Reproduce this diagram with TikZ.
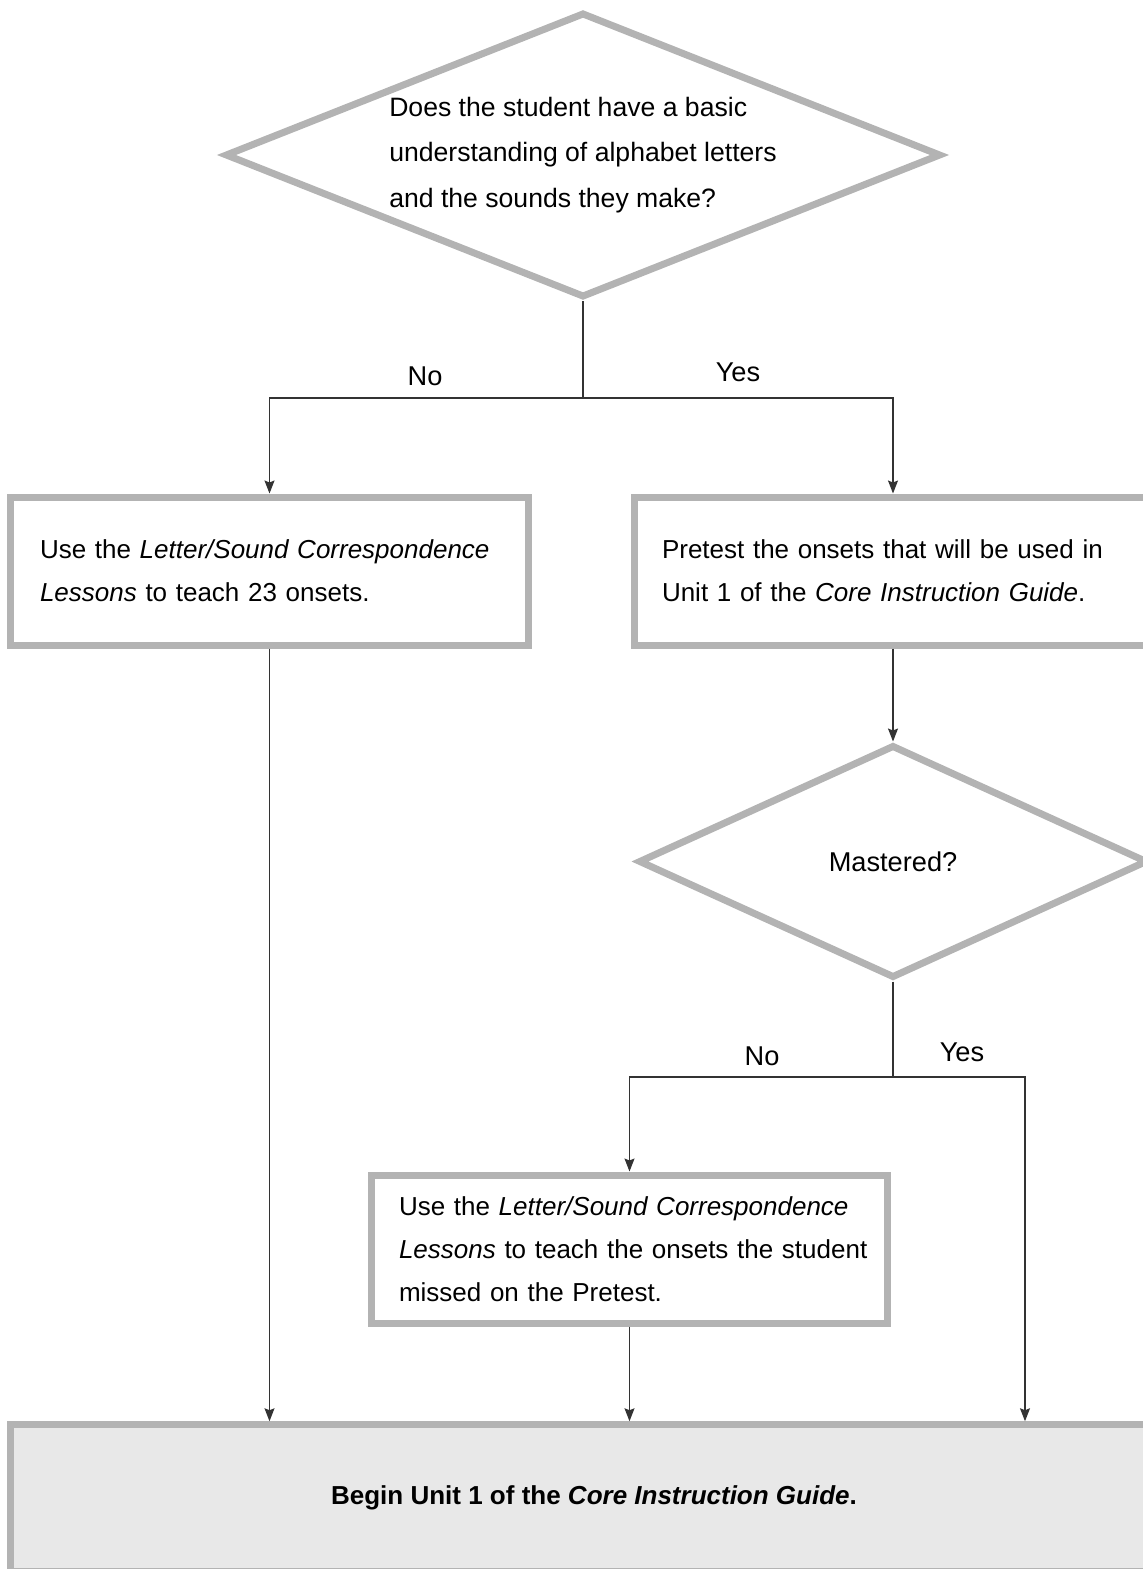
\documentclass[tikz,border=0pt]{standalone}
\usepackage{fontspec}
\setmainfont{Liberation Sans}
\usepackage{xcolor}
\usepackage{tikz}
\usetikzlibrary{shapes.geometric,arrows.meta}
\definecolor{rim}{HTML}{B3B3B3}
\definecolor{shade}{HTML}{E8E8E8}
\def\body{\fontsize{13}{21.5}\selectfont}
\def\tag{\fontsize{13.6}{16}\selectfont}

\begin{document}
\begin{tikzpicture}[x=0.5pt, y=-0.5pt,
	box/.style={draw=rim, line width=3.5pt, rectangle, minimum height=74pt, inner xsep=13.75pt, align=left, font=\body},
	choice/.style={draw=rim, line width=3.5pt, diamond, inner sep=0pt, shape aspect=2.5, align=left, font=\tag},
	arr/.style={-{Stealth[length=6.5pt,width=5pt,inset=1pt]}, line width=0.6pt, black!80},
	link/.style={line width=0.6pt, black!80},
	lbl/.style={font=\tag}]
	\useasboundingbox (0,0) rectangle (1143,1569);
	% questions
	\node[choice, minimum width=358pt, minimum height=142.5pt, font=\fontsize{13.3}{22.8}\selectfont] (ask) at (583,155) {Does the student have a basic\\understanding of alphabet letters\\and the sounds they make?};
	\node[choice, minimum width=254.5pt, minimum height=116.5pt] (mastered) at (893,861.5) {Mastered?};
	% steps
	\node[box, minimum width=259pt, text width=229.5pt, inner xsep=14.75pt] (teach) at (269.5,571) {\mbox{Use the \emph{Letter/Sound Correspondence}}\\\mbox{\emph{Lessons} to teach 23 onsets.}};
	\node[box, minimum width=258.5pt, text width=231pt] (pretest) at (893,571) {\mbox{Pretest the onsets that will be used in}\\\mbox{Unit 1 of the \emph{Core Instruction Guide}.}};
	\node[box, minimum width=258pt, text width=230.5pt] (reteach) at (629.5,1249) {\mbox{Use the \emph{Letter/Sound Correspondence}}\\\mbox{\emph{Lessons} to teach the onsets the student}\\\mbox{missed on the Pretest.}};
	\node[box, fill=shade, minimum width=583.5pt, minimum height=73.25pt, align=center, font=\fontsize{13}{16}\selectfont\bfseries] (begin) at (594,1498) {Begin Unit 1 of the \emph{Core Instruction Guide}.};
	% branches
	\coordinate (fork1) at (ask.south |- 0,398);
	\coordinate (fork2) at (893,1077);
	\coordinate (skip) at (1025,1077);
	\draw[link] (ask.south) -- (fork1);
	\draw[arr] (fork1) -| (teach.north);
	\draw[arr] (fork1) -| (pretest.north);
	\node[lbl] (no1) at (425,376) {No};
	\node[lbl] (yes1) at (738,372) {Yes};
	\draw[arr] (pretest.south) -- (mastered.north);
	\draw[link] (mastered.south) -- (fork2);
	\draw[arr] (fork2) -| (reteach.north);
	\draw[arr] (fork2) -- (skip) -- (skip |- begin.north);
	\node[lbl] (no2) at (762,1056) {No};
	\node[lbl] (yes2) at (962,1052) {Yes};
	\draw[arr] (teach.south) -- (teach.south |- begin.north);
	\draw[arr] (reteach.south) -- (reteach.south |- begin.north);
\end{tikzpicture}
\end{document}
